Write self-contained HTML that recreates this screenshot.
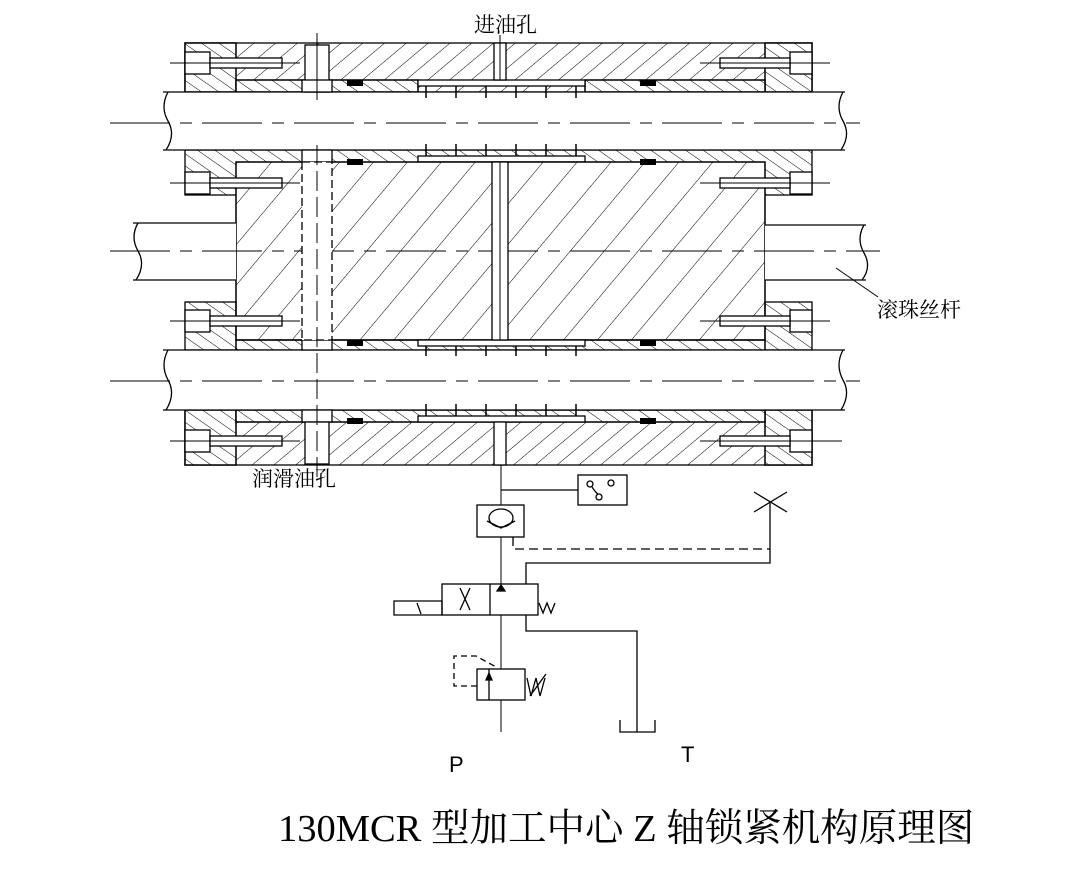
<!DOCTYPE html>
<html><head><meta charset="utf-8"><style>
html,body{margin:0;padding:0;background:#fff;width:1077px;height:896px;overflow:hidden}
svg{display:block}
</style></head><body>
<svg width="1077" height="896" viewBox="0 0 1077 896" xmlns="http://www.w3.org/2000/svg">
<defs>
<pattern id="ha" width="14" height="14" patternUnits="userSpaceOnUse" patternTransform="rotate(50)"><line x1="0" y1="0" x2="0" y2="14" stroke="#000" stroke-width="1"/></pattern>
<pattern id="hb" width="10" height="10" patternUnits="userSpaceOnUse" patternTransform="rotate(-55)"><line x1="0" y1="0" x2="0" y2="10" stroke="#000" stroke-width="1"/></pattern>
<pattern id="hc" width="26" height="26" patternUnits="userSpaceOnUse" patternTransform="rotate(40)"><line x1="0" y1="0" x2="0" y2="26" stroke="#000" stroke-width="1"/></pattern>
</defs>
<g stroke="#000" stroke-width="1.3" fill="none">
<!-- Band 1 -->
<rect x="185" y="43" width="627" height="49" fill="url(#ha)"/>
<rect x="185" y="43" width="51" height="49" fill="#fff"/><rect x="185" y="43" width="51" height="49" fill="url(#hb)"/>
<rect x="765" y="43" width="47" height="49" fill="#fff"/><rect x="765" y="43" width="47" height="49" fill="url(#hb)"/>
<rect x="236" y="80" width="182" height="12" fill="#fff"/><rect x="236" y="80" width="182" height="12" fill="url(#hb)"/>
<rect x="585" y="80" width="180" height="12" fill="#fff"/><rect x="585" y="80" width="180" height="12" fill="url(#hb)"/>
<rect x="418" y="80" width="167" height="6" fill="#fff"/>
<!-- Band 2 -->
<rect x="185" y="150" width="627" height="45" fill="url(#hb)"/>
<rect x="418" y="156" width="167" height="6" fill="#fff"/>
<!-- center block -->
<rect x="236" y="162" width="529" height="178" fill="#fff"/>
<rect x="236" y="162" width="529" height="178" fill="url(#hc)"/>
<!-- Band 3 -->
<rect x="185" y="302" width="51" height="48" fill="url(#hb)"/>
<rect x="765" y="302" width="47" height="48" fill="url(#hb)"/>
<rect x="236" y="340" width="529" height="10" fill="url(#hb)"/>
<rect x="418" y="340" width="167" height="6" fill="#fff"/>
<!-- Band 4 -->
<rect x="185" y="410" width="627" height="55" fill="url(#ha)"/>
<rect x="185" y="410" width="51" height="55" fill="#fff"/><rect x="185" y="410" width="51" height="55" fill="url(#hb)"/>
<rect x="765" y="410" width="47" height="55" fill="#fff"/><rect x="765" y="410" width="47" height="55" fill="url(#hb)"/>
<rect x="236" y="410" width="529" height="12" fill="#fff"/><rect x="236" y="410" width="529" height="12" fill="url(#hb)"/>
<rect x="418" y="416" width="167" height="6" fill="#fff"/>
<!-- shafts -->
<rect x="163" y="92" width="680" height="58" fill="#fff" stroke="none"/>
<line x1="163" y1="92" x2="845" y2="92"/><line x1="163" y1="150" x2="845" y2="150"/>
<path d="M168 92 q-8 15 0 29 q8 14 -2 29"/><path d="M843 92 q-8 15 0 29 q8 14 -2 29"/>
<rect x="163" y="350" width="680" height="60" fill="#fff" stroke="none"/>
<line x1="163" y1="350" x2="845" y2="350"/><line x1="163" y1="410" x2="845" y2="410"/>
<path d="M168 350 q-8 15 0 30 q8 14 -2 30"/><path d="M843 350 q-8 15 0 30 q8 14 -2 30"/>
<rect x="133" y="223" width="103" height="57" fill="#fff" stroke="none"/>
<line x1="133" y1="223" x2="236" y2="223"/><line x1="133" y1="280" x2="236" y2="280"/>
<path d="M138 223 q-8 14 0 28 q8 14 -2 29"/>
<rect x="765" y="225" width="103" height="55" fill="#fff" stroke="none"/>
<line x1="765" y1="225" x2="866" y2="225"/><line x1="765" y1="280" x2="866" y2="280"/>
<path d="M864 225 q-8 14 0 28 q8 14 -2 27"/>
<line x1="836" y1="268" x2="878" y2="297" stroke-width="1"/>
<!-- center lines -->
<g stroke-dasharray="60 10 12 10" stroke-width="1">
<line x1="110" y1="123" x2="860" y2="123"/>
<line x1="110" y1="381" x2="860" y2="381"/>
<line x1="110" y1="251" x2="880" y2="251"/>
</g>
<!-- teeth -->
<g stroke-width="1.5">
<line x1="426" y1="86" x2="426" y2="98"/><line x1="456" y1="86" x2="456" y2="98"/><line x1="486" y1="86" x2="486" y2="98"/><line x1="516" y1="86" x2="516" y2="98"/><line x1="546" y1="86" x2="546" y2="98"/><line x1="576" y1="86" x2="576" y2="98"/>
<line x1="426" y1="144" x2="426" y2="156"/><line x1="456" y1="144" x2="456" y2="156"/><line x1="486" y1="144" x2="486" y2="156"/><line x1="516" y1="144" x2="516" y2="156"/><line x1="546" y1="144" x2="546" y2="156"/><line x1="576" y1="144" x2="576" y2="156"/>
<line x1="426" y1="346" x2="426" y2="356"/><line x1="456" y1="346" x2="456" y2="356"/><line x1="486" y1="346" x2="486" y2="356"/><line x1="516" y1="346" x2="516" y2="356"/><line x1="546" y1="346" x2="546" y2="356"/><line x1="576" y1="346" x2="576" y2="356"/>
<line x1="426" y1="404" x2="426" y2="416"/><line x1="456" y1="404" x2="456" y2="416"/><line x1="486" y1="404" x2="486" y2="416"/><line x1="516" y1="404" x2="516" y2="416"/><line x1="546" y1="404" x2="546" y2="416"/><line x1="576" y1="404" x2="576" y2="416"/>
</g>
<!-- seals -->
<g fill="#000" stroke="none">
<rect x="347" y="80" width="16" height="6"/><rect x="640" y="80" width="16" height="6"/>
<rect x="347" y="159" width="16" height="6"/><rect x="640" y="159" width="16" height="6"/>
<rect x="347" y="340" width="16" height="6"/><rect x="640" y="340" width="16" height="6"/>
<rect x="347" y="418" width="16" height="6"/><rect x="640" y="418" width="16" height="6"/>
</g>
<!-- oil holes -->
<rect x="305" y="45" width="24" height="47" fill="#fff"/>
<rect x="302" y="80" width="30" height="12" fill="#fff"/>
<rect x="302" y="150" width="30" height="12" fill="#fff"/>
<rect x="302" y="340" width="30" height="10" fill="#fff"/>
<rect x="302" y="410" width="30" height="12" fill="#fff"/>
<rect x="305" y="422" width="24" height="42" fill="#fff"/>
<rect x="302" y="162" width="30" height="178" fill="#fff" stroke-dasharray="8 4"/>
<line x1="317" y1="33" x2="317" y2="100" stroke-width="1"/>
<line x1="317" y1="145" x2="317" y2="480" stroke-width="1" stroke-dasharray="20 6"/>
<rect x="494" y="43" width="12" height="37" fill="#fff"/>
<rect x="492" y="162" width="16" height="178" fill="#fff"/>
<rect x="494" y="422" width="12" height="43" fill="#fff"/>
<line x1="500" y1="35" x2="500" y2="80" stroke-width="1"/>
<line x1="500" y1="162" x2="500" y2="340" stroke-width="1"/>
<!-- bolts -->
<g fill="#fff">
<rect x="185" y="52" width="25" height="22"/><rect x="210" y="58" width="72" height="10"/>
<rect x="185" y="172" width="25" height="22"/><rect x="210" y="178" width="72" height="10"/>
<rect x="185" y="310" width="25" height="22"/><rect x="210" y="316" width="72" height="10"/>
<rect x="185" y="430" width="25" height="22"/><rect x="210" y="436" width="72" height="10"/>
<rect x="790" y="52" width="22" height="22"/><rect x="720" y="58" width="70" height="10"/>
<rect x="790" y="172" width="22" height="22"/><rect x="720" y="178" width="70" height="10"/>
<rect x="790" y="310" width="22" height="22"/><rect x="720" y="316" width="70" height="10"/>
<rect x="790" y="430" width="22" height="22"/><rect x="720" y="436" width="70" height="10"/>
</g>
<g stroke-width="1">
<line x1="170" y1="63" x2="300" y2="63"/><line x1="170" y1="183" x2="300" y2="183"/><line x1="170" y1="321" x2="300" y2="321"/><line x1="170" y1="441" x2="300" y2="441"/>
<line x1="700" y1="63" x2="830" y2="63"/><line x1="700" y1="183" x2="830" y2="183"/><line x1="700" y1="321" x2="830" y2="321"/><line x1="700" y1="441" x2="842" y2="441"/>
</g>
<!-- hydraulics -->
<line x1="501" y1="465" x2="501" y2="732" stroke-width="1"/>
<line x1="501" y1="490" x2="578" y2="490"/>
<rect x="578" y="475" width="49" height="30" fill="#fff"/>
<circle cx="590" cy="484" r="3"/><circle cx="611" cy="483" r="3"/><circle cx="599" cy="497" r="3"/><path d="M592 487 q4 6 6 7"/>
<rect x="477" y="505" width="47" height="32" fill="#fff"/>
<ellipse cx="501" cy="518" rx="12" ry="9"/><path d="M487 521 l14 7 l14 -7"/>
<path d="M513 537 v12 h257" stroke-dasharray="9 5"/>
<path d="M770 549 v14 h-244 v68 h111 v101"/>
<line x1="770" y1="549" x2="770" y2="503"/>
<line x1="754" y1="492" x2="787" y2="512"/><line x1="754" y1="512" x2="787" y2="492"/>
<path d="M620 720 v12 h35 v-12"/>
<rect x="442" y="584" width="96" height="31" fill="#fff"/>
<line x1="490" y1="584" x2="490" y2="615"/>
<path d="M460 588 l10 22 M470 588 l-10 22"/>
<path d="M394 601 h48 v14 h-48 z"/><path d="M417 603 l4 11"/>
<path d="M539 603 l4 10 l4 -10 l4 10 l4 -10"/>
<path d="M497 591 l4 -6 l4 6 z" fill="#000"/>
<rect x="477" y="669" width="48" height="31" fill="#fff"/>
<line x1="489" y1="669" x2="489" y2="700"/>
<path d="M486 680 l3 -7 l3 7 z" fill="#000"/>
<path d="M477 686 h-23 v-30 h22 l22 12" stroke-dasharray="6 4"/>
<path d="M527 678 l4 18 l5 -18 l4 18 l5 -18 M530 696 l16 -22"/>
</g>
<g font-family="'Liberation Serif','Noto Serif CJK SC','Noto Sans CJK SC',serif" fill="#000">
<text x="474" y="32" font-size="21">进油孔</text>
<text x="252" y="486" font-size="21">润滑油孔</text>
<text x="877" y="317" font-size="21">滚珠丝杆</text>
<text x="278" y="841" font-size="38.5">130MCR 型加工中心 Z 轴锁紧机构原理图</text>
</g>
<g font-family="'Liberation Sans',sans-serif" fill="#000" font-size="22">
<text x="449" y="772">P</text><text x="681" y="762">T</text>
</g>
</svg>
</body></html>
